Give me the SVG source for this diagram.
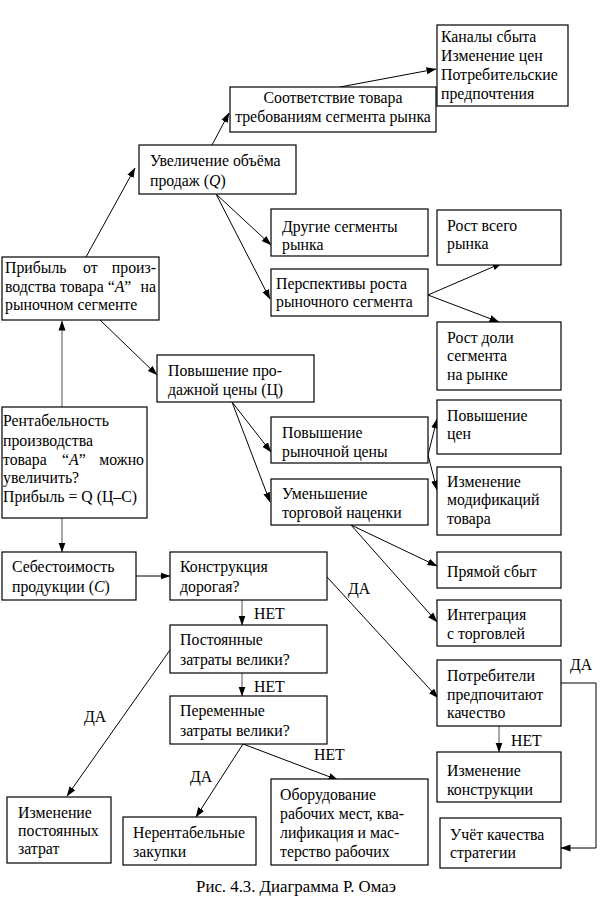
<svg xmlns="http://www.w3.org/2000/svg" width="611" height="912" viewBox="0 0 611 912">
<defs>
<marker id="ah" markerWidth="10" markerHeight="8" refX="9.5" refY="4" orient="auto" markerUnits="userSpaceOnUse">
<path d="M0,0.5 L10,4 L0,7.5 z" fill="#000"/>
</marker>
<style>
rect{fill:#fff;stroke:#000;stroke-width:1.2}
.c{text-anchor:middle}
.e{text-anchor:end}
.i{font-style:italic}
#connectors line,#connectors polyline{stroke:#000;stroke-width:1;fill:none}
#connectors .g{stroke:#555}
.a{marker-end:url(#ah)}
</style>
</defs>
<rect x="0" y="0" width="611" height="912" style="fill:#fff;stroke:none"/>

<g id="connectors">
<line class="a" x1="86" y1="257" x2="135" y2="168"/>
<line class="a" x1="212" y1="145" x2="229" y2="113"/>
<line class="a" x1="340" y1="87" x2="436" y2="69"/>
<line class="a" x1="216" y1="194" x2="271" y2="245"/>
<line class="a" x1="216" y1="194" x2="270" y2="299"/>
<line class="a" x1="428" y1="295" x2="502" y2="263"/>
<line class="a" x1="428" y1="295" x2="499" y2="322"/>
<line class="a" x1="100" y1="320" x2="157" y2="375"/>
<line class="a g" x1="62" y1="407" x2="62" y2="321"/>
<line class="a g" x1="62" y1="518" x2="62" y2="552"/>
<line class="a" x1="232" y1="402" x2="271" y2="452"/>
<line class="a" x1="232" y1="402" x2="270" y2="502"/>
<line class="a" x1="428" y1="455" x2="437" y2="419"/>
<line class="a" x1="428" y1="455" x2="437" y2="490"/>
<line class="a" x1="351" y1="525" x2="437" y2="566"/>
<line class="a" x1="351" y1="525" x2="437" y2="622"/>
<line class="a" x1="136" y1="576" x2="170" y2="576"/>
<line class="a" x1="327" y1="577" x2="438" y2="698"/>
<line class="a g" x1="242" y1="600" x2="242" y2="625"/>
<line class="a g" x1="242" y1="673" x2="242" y2="696"/>
<line class="a" x1="170" y1="650" x2="67" y2="796"/>
<line class="a" x1="243" y1="744" x2="196" y2="817"/>
<line class="a" x1="243" y1="744" x2="338" y2="780"/>
<line class="a g" x1="499" y1="726" x2="499" y2="752"/>
<polyline class="a" points="561,683 596,683 596,848 561,848"/>
</g>

<g font-family="'Liberation Serif', 'Times New Roman', 'DejaVu Serif', serif" font-size="15.8" fill="#000">
<g id="n-kanaly">
<rect x="437" y="25" width="131" height="81"/>
<text x="441" y="42">Каналы сбыта</text>
<text x="441" y="61">Изменение цен</text>
<text x="441" y="80">Потребительские</text>
<text x="441" y="99">предпочтения</text>
</g>
<g id="n-sootv">
<rect x="230" y="87" width="206" height="45"/>
<text class="c" x="333" y="103">Соответствие товара</text>
<text class="c" x="333" y="122">требованиям сегмента рынка</text>
</g>
<g id="n-uvelich">
<rect x="139" y="145" width="157" height="49"/>
<text x="150" y="166">Увеличение объёма</text>
<text x="150" y="186">продаж (<tspan class="i">Q</tspan>)</text>
</g>
<g id="n-drugie">
<rect x="271" y="209" width="157" height="47"/>
<text x="282" y="232">Другие сегменты</text>
<text x="282" y="250">рынка</text>
</g>
<g id="n-perspekt">
<rect x="271" y="269" width="157" height="47"/>
<text x="276" y="289">Перспективы роста</text>
<text x="276" y="307">рыночного сегмента</text>
</g>
<g id="n-rost-vsego">
<rect x="437" y="210" width="124" height="55"/>
<text x="447" y="231">Рост всего</text>
<text x="447" y="249">рынка</text>
</g>
<g id="n-rost-doli">
<rect x="437" y="322" width="124" height="68"/>
<text x="447" y="343">Рост доли</text>
<text x="447" y="361">сегмента</text>
<text x="447" y="380">на рынке</text>
</g>
<g id="n-pribyl">
<rect x="2" y="257" width="157" height="63"/>
<text x="5" y="273">Прибыль</text>
<text x="83" y="273">от</text>
<text class="e" x="156" y="273">произ-</text>
<text x="5" y="292">водства товара “<tspan class="i">А</tspan>”</text>
<text class="e" x="156" y="292">на</text>
<text x="5" y="310">рыночном сегменте</text>
</g>
<g id="n-povysh-prod">
<rect x="157" y="355" width="157" height="47"/>
<text x="168" y="376">Повышение про-</text>
<text x="168" y="395">дажной цены (Ц)</text>
</g>
<g id="n-rentab">
<rect x="2" y="407" width="145" height="111"/>
<text x="3" y="426">Рентабельность</text>
<text x="3" y="446">производства</text>
<text x="3" y="465">товара</text>
<text x="62" y="465">“<tspan class="i">А</tspan>”</text>
<text class="e" x="144" y="465">можно</text>
<text x="3" y="483">увеличить?</text>
<text x="3" y="502">Прибыль = Q (Ц–С)</text>
</g>
<g id="n-povysh-ryn">
<rect x="271" y="417" width="157" height="46"/>
<text x="282" y="438">Повышение</text>
<text x="282" y="457">рыночной цены</text>
</g>
<g id="n-umensh">
<rect x="271" y="479" width="157" height="46"/>
<text x="282" y="499">Уменьшение</text>
<text x="282" y="518">торговой наценки</text>
</g>
<g id="n-povysh-cen">
<rect x="437" y="400" width="124" height="54"/>
<text x="447" y="421">Повышение</text>
<text x="447" y="439">цен</text>
</g>
<g id="n-izm-modif">
<rect x="437" y="467" width="124" height="68"/>
<text x="447" y="487">Изменение</text>
<text x="447" y="505">модификаций</text>
<text x="447" y="524">товара</text>
</g>
<g id="n-sebest">
<rect x="2" y="552" width="134" height="48"/>
<text x="12" y="572">Себестоимость</text>
<text x="12" y="592">продукции (<tspan class="i">С</tspan>)</text>
</g>
<g id="n-konstr">
<rect x="170" y="552" width="157" height="48"/>
<text x="180" y="572">Конструкция</text>
<text x="180" y="592">дорогая?</text>
</g>
<g id="n-pryamoy">
<rect x="437" y="552" width="124" height="36"/>
<text x="447" y="577">Прямой сбыт</text>
</g>
<g id="n-integr">
<rect x="437" y="600" width="124" height="46"/>
<text x="447" y="620">Интеграция</text>
<text x="447" y="639">с торговлей</text>
</g>
<g id="n-postoyan">
<rect x="170" y="625" width="157" height="48"/>
<text x="180" y="645">Постоянные</text>
<text x="180" y="665">затраты велики?</text>
</g>
<g id="n-potreb">
<rect x="437" y="660" width="124" height="66"/>
<text x="447" y="681">Потребители</text>
<text x="447" y="700">предпочитают</text>
<text x="447" y="718">качество</text>
</g>
<g id="n-peremen">
<rect x="170" y="696" width="157" height="48"/>
<text x="180" y="716">Переменные</text>
<text x="180" y="736">затраты велики?</text>
</g>
<g id="n-izm-konstr">
<rect x="437" y="752" width="124" height="50"/>
<text x="447" y="776">Изменение</text>
<text x="447" y="795">конструкции</text>
</g>
<g id="n-izm-post">
<rect x="7" y="797" width="104" height="66"/>
<text x="18" y="818">Изменение</text>
<text x="18" y="836">постоянных</text>
<text x="18" y="854">затрат</text>
</g>
<g id="n-nerent">
<rect x="123" y="817" width="133" height="48"/>
<text x="133" y="838">Нерентабельные</text>
<text x="133" y="857">закупки</text>
</g>
<g id="n-oborud">
<rect x="271" y="779" width="157" height="86"/>
<text x="280" y="800">Оборудование</text>
<text x="280" y="819">рабочих мест, ква-</text>
<text x="280" y="838">лификация и мас-</text>
<text x="280" y="857">терство рабочих</text>
</g>
<g id="n-uchet">
<rect x="440" y="818" width="121" height="50"/>
<text x="450" y="840">Учёт качества</text>
<text x="450" y="858">стратегии</text>
</g>

<g id="labels">
<text x="254" y="619">НЕТ</text>
<text x="254" y="692">НЕТ</text>
<text x="348" y="594">ДА</text>
<text x="84" y="722">ДА</text>
<text x="190" y="782">ДА</text>
<text x="314" y="760">НЕТ</text>
<text x="511" y="746">НЕТ</text>
<text x="570" y="670">ДА</text>
</g>

<text class="c" x="296" y="892" font-size="16.8">Рис. 4.3. Диаграмма Р. Омаэ</text>
</g>
</svg>
